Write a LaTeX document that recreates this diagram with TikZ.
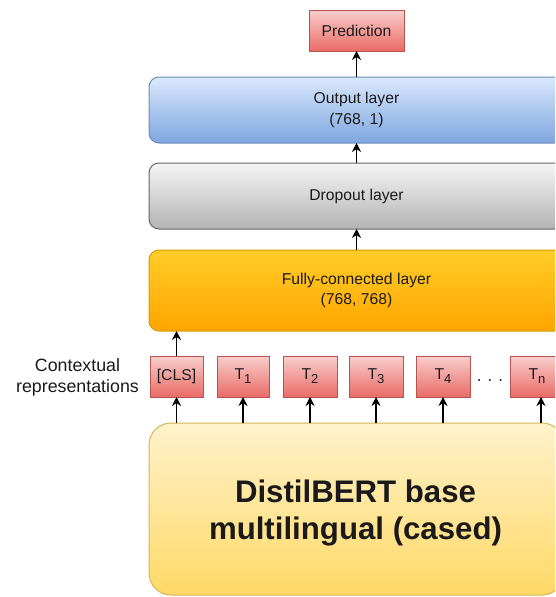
\documentclass[tikz,border=0pt]{standalone}
\usepackage{fontspec}
\setmainfont{Liberation Sans}
\usetikzlibrary{arrows.meta}

\definecolor{redtop}{HTML}{F8CECC}
\definecolor{redbot}{HTML}{EA6B66}
\definecolor{redline}{HTML}{B85450}
\definecolor{bluetop}{HTML}{DAE8FC}
\definecolor{bluebot}{HTML}{7EA6E0}
\definecolor{blueline}{HTML}{6C8EBF}
\definecolor{greytop}{HTML}{F5F5F5}
\definecolor{greybot}{HTML}{B3B3B3}
\definecolor{greyline}{HTML}{666666}
\definecolor{orangetop}{HTML}{FFCD28}
\definecolor{orangebot}{HTML}{FFA500}
\definecolor{orangeline}{HTML}{D79B00}
\definecolor{yellowtop}{HTML}{FFF2CC}
\definecolor{yellowbot}{HTML}{FFD966}
\definecolor{yellowline}{HTML}{D6B656}
\definecolor{ink}{HTML}{1A1A1A}

\newcommand\tsub[1]{\raisebox{-4pt}{\fontsize{13}{13}\selectfont #1}}

\tikzset{
  base/.style={inner sep=0pt, outer sep=0pt, line width=1pt, text=ink,
               align=center, font=\fontsize{15.7}{20.5}\selectfont},
  redbox/.style={base, draw=redline, top color=redtop, bottom color=redbot},
  layerbox/.style={base, rounded corners=10pt, minimum width=415pt},
  bluebox/.style={layerbox, draw=blueline, top color=bluetop, bottom color=bluebot},
  greybox/.style={layerbox, draw=greyline, top color=greytop, bottom color=greybot},
  orangebox/.style={layerbox, draw=orangeline, top color=orangetop, bottom color=orangebot},
  tokbox/.style={redbox, minimum width=54pt, minimum height=41pt},
  arr/.style={line width=1.2pt, draw=black,
              -{Stealth[length=9pt,width=9pt,inset=3pt]}}
}

\begin{document}
\begin{tikzpicture}[x=1pt,y=-1pt]
\useasboundingbox (0,0) rectangle (555,597);
\clip (0,0) rectangle (555,597);
\fill[white] (0,0) rectangle (555,597);

% head of the classifier
\node[redbox, minimum width=95pt, minimum height=41pt] (pred) at (356.5,30.5) {Prediction};
\node[bluebox, minimum height=66pt] (out) at (356.5,110) {Output layer\\(768, 1)};
\node[greybox, minimum height=66pt] (drop) at (356.5,196) {Dropout layer};
\node[orangebox, minimum height=81pt] (fc) at (356.5,290.5) {Fully-connected layer\\(768, 768)};

% token representations
\node[tokbox, minimum width=53pt] (cls) at (176.5,376.5) {[CLS]};
\node[tokbox, minimum width=52pt] (t1) at (243,376.5) {T\tsub{1}};
\node[tokbox] (t2) at (310,376.5) {T\tsub{2}};
\node[tokbox] (t3) at (376,376.5) {T\tsub{3}};
\node[tokbox] (t4) at (443,376.5) {T\tsub{4}};
\node[tokbox] (tn) at (537,376.5) {T\tsub{n}};
\node[base, anchor=base, font=\fontsize{17}{17}\selectfont] (dots) at (490,381)
  {.\hspace{6pt}.\hspace{6pt}.};

\node[base, font=\fontsize{17.8}{21}\selectfont] (ctx) at (77.5,377.5)
  {Contextual\\representations};

% encoder
\node[base, rounded corners=22pt, draw=yellowline, top color=yellowtop,
      bottom color=yellowbot, minimum width=415pt, minimum height=172pt] (big) at (356.5,509) {};
\node[base, font=\fontsize{31.2}{37}\selectfont\bfseries] (bigtext) at (355.5,513)
  {DistilBERT base\\multilingual (cased)};

% connectors
\draw[arr] (out.north) -- (pred.south);
\draw[arr] (drop.north) -- (out.south);
\draw[arr] (fc.north) -- (drop.south);
\draw[arr] (cls.north) -- (cls.north |- fc.south);
\foreach \t in {cls,t1,t2,t3,t4}
  \draw[arr] (big.north -| \t.south) -- (\t.south);
\coordinate (tnx) at (541,0);
\draw[arr] (big.north -| tnx) -- (tn.south -| tnx);
\end{tikzpicture}
\end{document}
